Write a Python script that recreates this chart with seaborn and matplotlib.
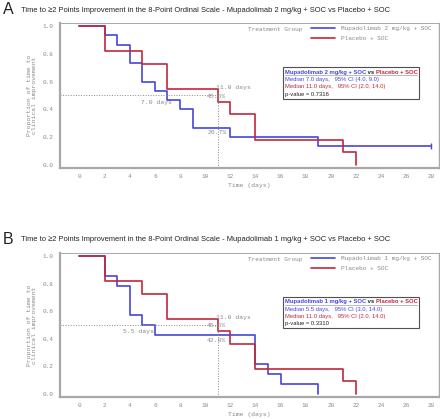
import numpy as np
import pandas as pd
import matplotlib
matplotlib.use("Agg")
import matplotlib.pyplot as plt
import seaborn as sns
from matplotlib.lines import Line2D
from matplotlib.patches import Rectangle

sns.set_style("white")
plt.rcParams['font.family'] = ['Liberation Sans', 'DejaVu Sans']

# ---------------- data ----------------
placebo_t = [0, 2, 5, 7, 11, 12, 14, 21, 22]
placebo_s = [1.0, 0.818, 0.727, 0.545, 0.455, 0.364, 0.182, 0.091, 0.0]

mup2_t = [0, 2, 3, 4, 5, 6, 7, 8, 9, 12, 19, 28]
mup2_s = [1.0, 0.933, 0.867, 0.733, 0.600, 0.533, 0.467, 0.400, 0.267, 0.200, 0.133, 0.133]

mup1_t = [0, 2, 3, 4, 5, 6, 14, 15, 16, 19]
mup1_s = [1.0, 0.857, 0.786, 0.571, 0.500, 0.429, 0.214, 0.143, 0.071, 0.0]

panel_letters = ["A", "B"]
titles = [
    "Time to \u22652 Points Improvement in the 8-Point Ordinal Scale - Mupadolimab 2 mg/kg + SOC vs Placebo + SOC",
    "Time to \u22652 Points Improvement in the 8-Point Ordinal Scale - Mupadolimab 1 mg/kg + SOC vs Placebo + SOC",
]
treat_labels = ["Mupadolimab 2 mg/kg + SOC", "Mupadolimab 1 mg/kg + SOC"]
placebo_label = "Placebo + SOC"
treat_median = [7.0, 5.5]
placebo_median = 11.0
treat_ci = ["(4.0, 9.0)", "(3.0, 14.0)"]
placebo_ci = "(2.0, 14.0)"
pvalues = ["0.7316", "0.3310"]
pct_placebo = ["45.5%", "45.5%"]
pct_treat = ["26.7%", "42.9%"]
pct_treat_y = [0.23, 0.385]
xticks = list(range(0, 29, 2))
yticks = [0.0, 0.2, 0.4, 0.6, 0.8, 1.0]

BLUE = "#4646dc"
RED = "#c0283c"
GRAY = "#8a8a8a"
MONO = "Liberation Mono"

fig = plt.figure(figsize=(4.40, 4.19), dpi=100)

axes_rects = [
    [60/440, 1-168/419, 379/440, 145/419],
    [60/440, 1-397/419, 379/440, 144/419],
]
title_y = [1-10/419, 1-239/419]

treat_data = [(mup2_t, mup2_s), (mup1_t, mup1_s)]

for i in range(2):
    ax = fig.add_axes(axes_rects[i])
    tt, ts = treat_data[i]
    df = pd.concat([
        pd.DataFrame({"time": tt, "surv": ts, "group": treat_labels[i]}),
        pd.DataFrame({"time": placebo_t, "surv": placebo_s, "group": placebo_label}),
    ], ignore_index=True)
    sns.lineplot(data=df, x="time", y="surv", hue="group",
                 palette={treat_labels[i]: BLUE, placebo_label: RED},
                 estimator=None, sort=False, drawstyle="steps-post",
                 linewidth=1.2, legend=False, ax=ax)
    if i == 0:
        ax.plot([tt[-1]], [ts[-1]], marker="|", color=BLUE, markersize=4, mew=1.0)

    ax.set_xlim(-1.54, 28.6)
    ax.set_ylim(-0.022, 1.022)
    ax.set_xticks(xticks)
    ax.set_xticks(range(1, 29, 2), minor=True)
    ax.set_yticks(yticks)
    ax.set_xticklabels([str(x) for x in xticks], fontfamily=MONO, fontsize=4.4, color=GRAY)
    ax.set_yticklabels([f"{y:.1f}" for y in yticks], fontfamily=MONO, fontsize=4.4, color=GRAY)
    ax.tick_params(axis="both", which="both", direction="out", color=GRAY,
                   length=2.5, width=0.6, pad=2)
    ax.tick_params(axis="x", which="minor", length=1.5)
    ax.set_xlabel("Time (days)", fontfamily=MONO, fontsize=4.6, color=GRAY, labelpad=3)
    ax.set_ylabel("Proportion of time to\nclinical improvement", fontfamily=MONO,
                  fontsize=4.6, color=GRAY, labelpad=4, linespacing=1.2)
    for side, lw in [("left", 1.6), ("bottom", 1.6), ("top", 0.7), ("right", 1.0)]:
        ax.spines[side].set_color("#a8a8a8")
        ax.spines[side].set_linewidth(lw)

    # median reference lines
    ax.plot([-1.54, placebo_median], [0.5, 0.5], color=GRAY, ls=":", lw=0.7)
    ax.plot([placebo_median, placebo_median], [-0.022, 0.5], color=GRAY, ls=":", lw=0.7)
    tfs = 4.6
    ax.text(placebo_median - 0.15, 0.555, f"{placebo_median:.1f} days", fontfamily=MONO,
            fontsize=tfs, color=GRAY, va="center", ha="left")
    ax.text(placebo_median + 0.7, 0.493, pct_placebo[i], fontfamily=MONO,
            fontsize=tfs, color=GRAY, va="center", ha="right")
    ax.text(treat_median[i] + 0.4, 0.45, f"{treat_median[i]:.1f} days", fontfamily=MONO,
            fontsize=tfs, color=GRAY, va="center", ha="right")
    ax.text(placebo_median + 0.7, pct_treat_y[i], pct_treat[i], fontfamily=MONO,
            fontsize=tfs, color=GRAY, va="center", ha="right")

    # legend
    ax.text(0.496, 0.952, "Treatment Group", transform=ax.transAxes, fontfamily=MONO,
            fontsize=4.4, color=GRAY, va="center", ha="left")
    handles = [Line2D([], [], color=BLUE, lw=1.2), Line2D([], [], color=RED, lw=1.2)]
    leg = ax.legend(handles, [treat_labels[i], placebo_label], loc="upper left",
                    bbox_to_anchor=(0.655, 1.0), frameon=False,
                    prop={"family": MONO, "size": 4.4}, handlelength=3.8,
                    handletextpad=1.1, labelspacing=0.75, borderaxespad=0.3,
                    borderpad=0.2)
    for t in leg.get_texts():
        t.set_color(GRAY)

    # stats box
    bx0, bx1, by0, by1 = 0.588, 0.947, 0.476, 0.697
    ax.add_patch(Rectangle((bx0, by0), bx1 - bx0, by1 - by0, transform=ax.transAxes,
                           fill=True, facecolor="white", edgecolor="#505050", lw=0.8, zorder=5))
    bfs = 4.25
    tx = 0.594
    t1 = ax.text(tx, 0.662, treat_labels[i], transform=ax.transAxes, fontsize=bfs,
                 fontweight="bold", color=BLUE, va="center", ha="left", zorder=6)
    t2 = ax.annotate(" vs ", xycoords=t1, xy=(1, 0), va="bottom", ha="left",
                     fontsize=bfs, fontweight="bold", color="#222222", zorder=6)
    ax.annotate(placebo_label, xycoords=t2, xy=(1, 0), va="bottom", ha="left",
                fontsize=bfs, fontweight="bold", color=RED, zorder=6)
    ax.plot([tx, 0.942], [0.638, 0.638], transform=ax.transAxes, color="#b0b0b0",
            lw=0.6, zorder=6)
    ax.text(tx, 0.607, f"Median {treat_median[i]:.1f} days,   95% CI {treat_ci[i]}",
            transform=ax.transAxes, fontsize=bfs, color=BLUE, va="center", ha="left", zorder=6)
    ax.text(tx, 0.559, f"Median {placebo_median:.1f} days,   95% CI {placebo_ci}",
            transform=ax.transAxes, fontsize=bfs, color=RED, va="center", ha="left", zorder=6)
    ax.text(tx, 0.510, f"p-value = {pvalues[i]}",
            transform=ax.transAxes, fontsize=bfs, color="#222222", va="center", ha="left", zorder=6)

    fig.text(3/440, title_y[i], panel_letters[i], fontsize=11.5, color="#222222",
             va="center", ha="left")
    fig.text(21/440, title_y[i], titles[i], fontsize=5.45, color="#222222",
             va="center", ha="left")

fig.savefig("out.png", dpi=100)
